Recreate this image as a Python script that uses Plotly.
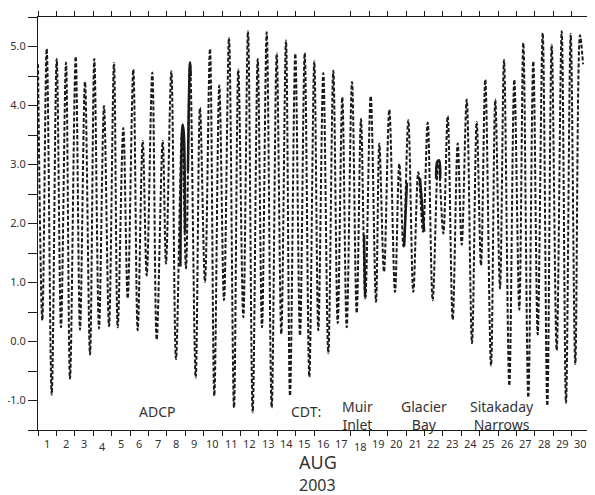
import plotly.graph_objects as go

# ---- data (day of August 2003 as decimal, water level) ----
high_days = [1.00, 1.473, 2.016, 2.522, 3.049, 3.554, 4.060, 4.587, 5.130, 5.636, 6.179, 6.690,
             7.212, 7.777, 8.245, 8.826, 9.261, 9.804, 10.348, 10.853, 11.380, 11.886, 12.413,
             12.940, 13.429, 13.973, 14.478, 14.984, 15.495, 16.016, 16.505, 17.049, 17.538,
             18.065, 18.554, 19.082, 19.549, 20.092, 20.636, 21.125, 21.668, 22.179, 22.755,
             23.266, 23.810, 24.299, 24.842, 25.310, 25.853, 26.326, 26.886, 27.375, 27.918,
             28.429, 28.918, 29.462, 29.951, 30.457, 30.62]
high_levels = [4.70, 4.96, 4.79, 4.73, 4.83, 4.40, 4.79, 3.99, 4.72, 3.62, 4.61, 3.40,
               4.56, 3.40, 4.58, 3.55, 4.73, 3.96, 4.96, 4.34, 5.15, 4.61, 5.26,
               4.79, 5.24, 4.88, 5.10, 4.88, 4.89, 4.75, 4.55, 4.59, 4.14,
               4.40, 3.77, 4.16, 3.35, 3.93, 3.01, 3.75, 2.87, 3.71, 3.06,
               3.82, 3.36, 4.10, 3.72, 4.44, 4.10, 4.77, 4.44, 5.06, 4.75,
               5.23, 5.03, 5.26, 5.21, 5.19, 4.70]

low_days = [1.234, 1.745, 2.250, 2.739, 3.283, 3.826, 4.315, 4.859, 5.332, 5.875, 6.418, 6.908,
            7.451, 7.957, 8.500, 9.043, 9.571, 10.076, 10.582, 11.109, 11.652, 12.158, 12.668,
            13.174, 13.701, 14.223, 14.696, 15.239, 15.745, 16.234, 16.777, 17.288, 17.777,
            18.321, 18.788, 19.370, 19.804, 20.402, 20.864, 21.397, 21.924, 22.451, 23.027,
            23.538, 24.027, 24.587, 25.076, 25.620, 26.109, 26.614, 27.158, 27.647, 28.158,
            28.679, 29.190, 29.696, 30.201]
low_levels = [0.36, -0.90, 0.24, -0.63, 0.20, -0.22, 0.22, 0.26, 0.24, 0.73, 0.19, 1.12,
              0.03, 1.32, -0.30, 1.24, -0.61, 1.01, -0.92, 0.70, -1.12, 0.41, -1.20,
              0.24, -1.12, 0.13, -0.92, 0.10, -0.60, 0.19, -0.20, 0.31, 0.24,
              0.48, 0.73, 0.67, 1.18, 0.84, 1.61, 0.84, 1.86, 0.70, 1.83,
              0.37, 1.64, -0.03, 1.29, -0.41, 0.90, -0.75, 0.54, -0.95, 0.12,
              -1.09, -0.15, -1.04, -0.38]

# solid (measured) segments
adcp1_days = [8.74, 8.86, 8.92, 8.99]
adcp1_levels = [1.27, 3.68, 3.55, 1.85]
adcp2_days = [9.15, 9.26, 9.30]
adcp2_levels = [2.90, 4.73, 4.50]
muir_days = [18.72, 18.78]
muir_levels = [1.81, 0.75]
gb1_days = [20.90, 21.05]
gb1_levels = [1.61, 2.69]
gb2_days = [21.76, 21.99]
gb2_levels = [2.77, 1.86]
gb3_days = [22.64, 22.70, 22.80, 22.86]
gb3_levels = [2.76, 3.05, 3.07, 2.76]

day_labels = [str(d) for d in range(1, 31)]
day_label_shift = {4: -3, 18: -3}
y_ticks = [-1.5, -1.0, -0.5, 0.0, 0.5, 1.0, 1.5, 2.0, 2.5, 3.0, 3.5, 4.0, 4.5, 5.0, 5.5]
y_tick_text = ["", "-1.0", "", "0.0", "", "1.0", "", "2.0", "", "3.0", "", "4.0", "", "5.0", ""]
x_tick_bounds = [d for d in range(1, 32) if d != 17]

site_labels = [("ADCP", 7.47, -1.19), ("CDT:", 15.57, -1.18), ("Muir<br>Inlet", 18.39, -1.25),
               ("Glacier<br>Bay", 22.0, -1.25), ("Sitakaday<br>Narrows", 26.22, -1.25)]

# ---- build ----
pts = sorted(zip(high_days + low_days, high_levels + low_levels))
xs = [p[0] for p in pts]
ys = [p[1] for p in pts]

INK = "#1a1a1a"
TXT = "#333333"
FONT = "Noto Sans"

fig = go.Figure()
fig.add_trace(go.Scatter(x=xs, y=ys, mode="lines",
                         line=dict(color=INK, width=2, dash="4px,2px", shape="spline"),
                         showlegend=False, hoverinfo="skip"))
for dx, dy in [(adcp1_days, adcp1_levels), (adcp2_days, adcp2_levels), (muir_days, muir_levels),
               (gb1_days, gb1_levels), (gb2_days, gb2_levels), (gb3_days, gb3_levels)]:
    fig.add_trace(go.Scatter(x=dx, y=dy, mode="lines",
                             line=dict(color=INK, width=2.5, shape="spline"),
                             showlegend=False, hoverinfo="skip"))
# invisible trace for right axis
fig.add_trace(go.Scatter(x=[1], y=[0], yaxis="y2", mode="markers", marker=dict(opacity=0),
                         showlegend=False, hoverinfo="skip"))

ann = []
for i, lab in enumerate(day_labels):
    d = i + 1
    ann.append(dict(x=d + 0.5, y=0, xref="x", yref="paper", text=lab, showarrow=False,
                    yanchor="middle", yshift=-13 + day_label_shift.get(d, 0),
                    font=dict(family=FONT, size=11, color=TXT)))
ann.append(dict(x=0.507, y=-0.077, xref="paper", yref="paper", text="AUG", showarrow=False,
                yanchor="middle", font=dict(family=FONT, size=18, color=TXT)))
ann.append(dict(x=0.507, y=-0.133, xref="paper", yref="paper", text="2003", showarrow=False,
                yanchor="middle", font=dict(family=FONT, size=16, color=TXT)))
for t, x, y in site_labels:
    ann.append(dict(x=x, y=y, xref="x", yref="y", text=t, showarrow=False,
                    font=dict(family=FONT, size=14, color=TXT)))

# page body adds an 8px offset, so the figure is 8px smaller with tighter left/top margins
fig.update_layout(
    width=587, height=487,
    margin=dict(l=30, r=5, t=8.5, b=65, autoexpand=False),
    paper_bgcolor="white", plot_bgcolor="white",
    font=dict(family=FONT, size=11, color=TXT),
    annotations=ann,
    xaxis=dict(range=[1, 31], tickvals=x_tick_bounds, showticklabels=False, automargin=False,
               ticks="outside", ticklen=5, tickcolor=INK, tickwidth=1,
               showline=True, linecolor=INK, linewidth=1, mirror="ticks",
               showgrid=False, zeroline=False),
    yaxis=dict(range=[-1.5, 5.5], tickvals=y_ticks, ticktext=y_tick_text, automargin=False,
               ticks="outside", ticklen=9, tickcolor=INK, tickwidth=1,
               showline=True, linecolor=INK, linewidth=1,
               showgrid=False, zeroline=False, tickfont=dict(family=FONT, size=11, color=TXT)),
    yaxis2=dict(range=[-1.5, 5.5], overlaying="y", side="right", tickvals=y_ticks, automargin=False,
                showticklabels=False, ticks="outside", ticklen=5, tickcolor=INK, tickwidth=1,
                showline=True, linecolor=INK, linewidth=1, showgrid=False, zeroline=False),
)

fig.write_html("out.html")
